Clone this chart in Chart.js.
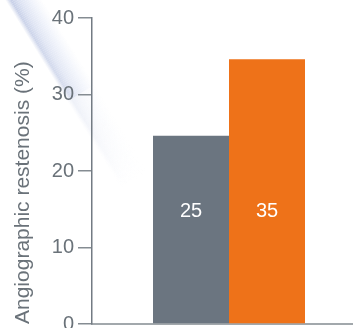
<!DOCTYPE html>
<html>
<head>
<meta charset="utf-8">
<script src="https://cdn.jsdelivr.net/npm/chart.js@4"></script>
<style>
  html, body { margin: 0; padding: 0; background: #fff; overflow: hidden; }
  #wrap { position: relative; width: 366px; height: 340px; }
</style>
</head>
<body>
<div id="wrap"><canvas id="chart"></canvas></div>
<script>
// --- data ---
const categories = [''];
const seriesNames = ['Comparator', 'Treatment'];
const seriesValues = [24.6, 34.6];
const valueLabels = ['25', '35'];
const seriesColors = ['#6b7580', '#ee7219'];
const yTicks = [0, 10, 20, 30, 40];
const yTitle = 'Angiographic restenosis (%)';

const FONT = '"Liberation Sans", Arial, sans-serif';
const GREY_TEXT = '#6a7279';

// faint diagonal light streak in the top-left corner
const streakPlugin = {
    id: 'streak',
    beforeDraw(chart) {
        const ctx = chart.ctx;
        ctx.save();
        ctx.translate(14, -16);
        ctx.rotate(Math.atan2(140, 86));
        const g = ctx.createLinearGradient(0, -16, 0, 16);
        g.addColorStop(0, 'rgba(240,243,250,0)');
        g.addColorStop(0.3, 'rgba(236,240,250,0.8)');
        g.addColorStop(0.65, 'rgba(214,221,240,0.9)');
        g.addColorStop(0.85, 'rgba(190,200,228,0.9)');
        g.addColorStop(1, 'rgba(200,208,232,0)');
        ctx.fillStyle = g;
        for (let i = 0; i < 230; i += 2) {
            const t = i / 230;
            ctx.globalAlpha = t < 0.55 ? 1 - t * 0.6 : Math.max(0, (1 - t) * 1.5) * 0.45;
            ctx.fillRect(i, -16, 2, 32);
        }
        ctx.restore();
    }
};

// white value labels inside the bars
const valueLabelPlugin = {
    id: 'valueLabels',
    afterDatasetsDraw(chart) {
        const ctx = chart.ctx;
        const y = chart.scales.y.getPixelForValue(14.7);
        ctx.save();
        ctx.font = '20px ' + FONT;
        ctx.fillStyle = '#ffffff';
        ctx.textAlign = 'center';
        ctx.textBaseline = 'middle';
        chart.data.datasets.forEach((ds, i) => {
            const bar = chart.getDatasetMeta(i).data[0];
            ctx.fillText(valueLabels[i], bar.x, y);
        });
        ctx.restore();
    }
};

new Chart(document.getElementById('chart'), {
    type: 'bar',
    data: {
        labels: categories,
        datasets: seriesNames.map((name, i) => ({
            label: name,
            data: [seriesValues[i]],
            backgroundColor: seriesColors[i],
            borderWidth: 0,
            barPercentage: 1,
            categoryPercentage: 152 / 274
        }))
    },
    options: {
        responsive: true,
        maintainAspectRatio: false,
        animation: false,
        layout: { padding: { top: 18, bottom: 15.5, left: 0, right: 0 } },
        plugins: {
            legend: { display: false },
            tooltip: { enabled: false }
        },
        scales: {
            x: {
                grid: { display: false },
                ticks: { display: false },
                afterFit: s => { s.height = 0; },
                border: { display: true, color: '#a2a8ac', width: 2 }
            },
            y: {
                min: 0,
                max: 40,
                afterBuildTicks: s => { s.ticks = yTicks.map(v => ({ value: v })); },
                afterFit: s => { s.width = 92; },
                grid: {
                    drawOnChartArea: false,
                    drawTicks: true,
                    tickLength: 14,
                    tickColor: '#858c92',
                    lineWidth: 1.5
                },
                border: { display: true, color: '#737b83', width: 1.5 },
                ticks: {
                    padding: 4,
                    color: GREY_TEXT,
                    font: { family: FONT, size: 20 }
                },
                title: {
                    display: true,
                    text: yTitle,
                    align: 'start',
                    color: GREY_TEXT,
                    padding: { top: 11, bottom: 0 },
                    font: { family: FONT, size: 21 }
                }
            }
        }
    },
    plugins: [streakPlugin, valueLabelPlugin]
});
</script>
</body>
</html>
